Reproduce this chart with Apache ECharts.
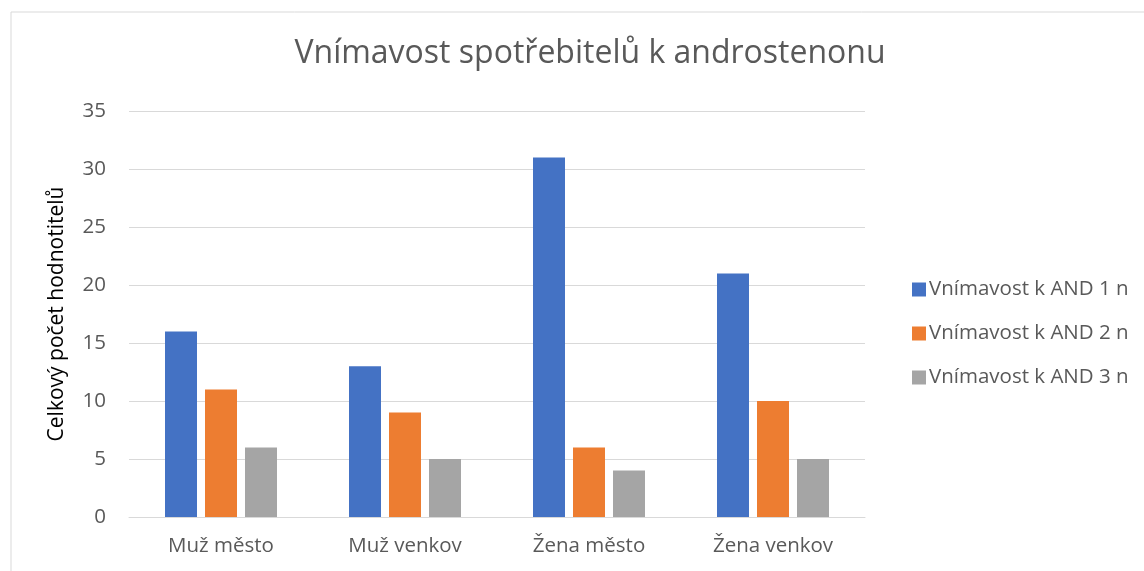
<!DOCTYPE html>
<html>
<head>
<meta charset="utf-8">
<script src="https://cdn.jsdelivr.net/npm/echarts@6/dist/echarts.min.js"></script>
<style>
  html, body { margin: 0; padding: 0; background: #fff; }
  #chart { width: 1144px; height: 571px; }
</style>
</head>
<body>
<div id="chart"></div>
<script>
const categories = ['Muž město', 'Muž venkov', 'Žena město', 'Žena venkov']
const seriesNames = ['Vnímavost k AND 1 n', 'Vnímavost k AND 2 n', 'Vnímavost k AND 3 n']
const and1 = [16, 13, 31, 21]
const and2 = [11, 9, 6, 10]
const and3 = [6, 5, 4, 5]
const colors = ['#4472C4', '#ED7D31', '#A5A5A5']

const font = '"Open Sans", Lato, sans-serif'
const textColor = '#595959'

const chart = echarts.init(document.getElementById('chart'))

const makeSeries = (name, data, i) => ({
  name,
  type: 'bar',
  data,
  barWidth: 32,
  barGap: '25%',
  itemStyle: { color: colors[i] }
})

chart.setOption({
  animation: false,
  textStyle: { fontFamily: font },
  graphic: [{
    type: 'rect',
    shape: { x: 11, y: 12, width: 1200, height: 600 },
    style: { fill: 'none', stroke: '#D9D9D9', lineWidth: 1 },
    silent: true
  }],
  title: {
    text: 'Vnímavost spotřebitelů k androstenonu',
    left: 585,
    textAlign: 'center',
    top: 33,
    textStyle: { fontFamily: font, fontSize: 32, fontWeight: 'normal', color: textColor }
  },
  legend: {
    orient: 'vertical',
    left: 907,
    top: 274,
    itemWidth: 14,
    itemHeight: 14,
    itemGap: 23,
    icon: 'rect',
    textStyle: { fontFamily: font, fontSize: 20.5, color: textColor, padding: [0, 0, 0, -2] },
    data: seriesNames
  },
  grid: { left: 129, right: 279, top: 111, bottom: 54 },
  xAxis: {
    type: 'category',
    data: categories,
    axisLine: { lineStyle: { color: '#D9D9D9' } },
    axisTick: { show: false },
    axisLabel: { fontFamily: font, fontSize: 20.5, color: textColor, margin: 19 }
  },
  yAxis: {
    type: 'value',
    min: 0,
    max: 35,
    interval: 5,
    name: 'Celkový počet hodnotitelů',
    nameLocation: 'middle',
    nameGap: 61,
    nameTextStyle: { fontFamily: font, fontSize: 21, color: '#000' },
    axisLine: { show: false },
    axisTick: { show: false },
    splitLine: { lineStyle: { color: '#D9D9D9' } },
    axisLabel: { fontFamily: font, fontSize: 20.5, color: textColor, margin: 23 }
  },
  series: [
    makeSeries(seriesNames[0], and1, 0),
    makeSeries(seriesNames[1], and2, 1),
    makeSeries(seriesNames[2], and3, 2)
  ]
})
</script>
</body>
</html>
